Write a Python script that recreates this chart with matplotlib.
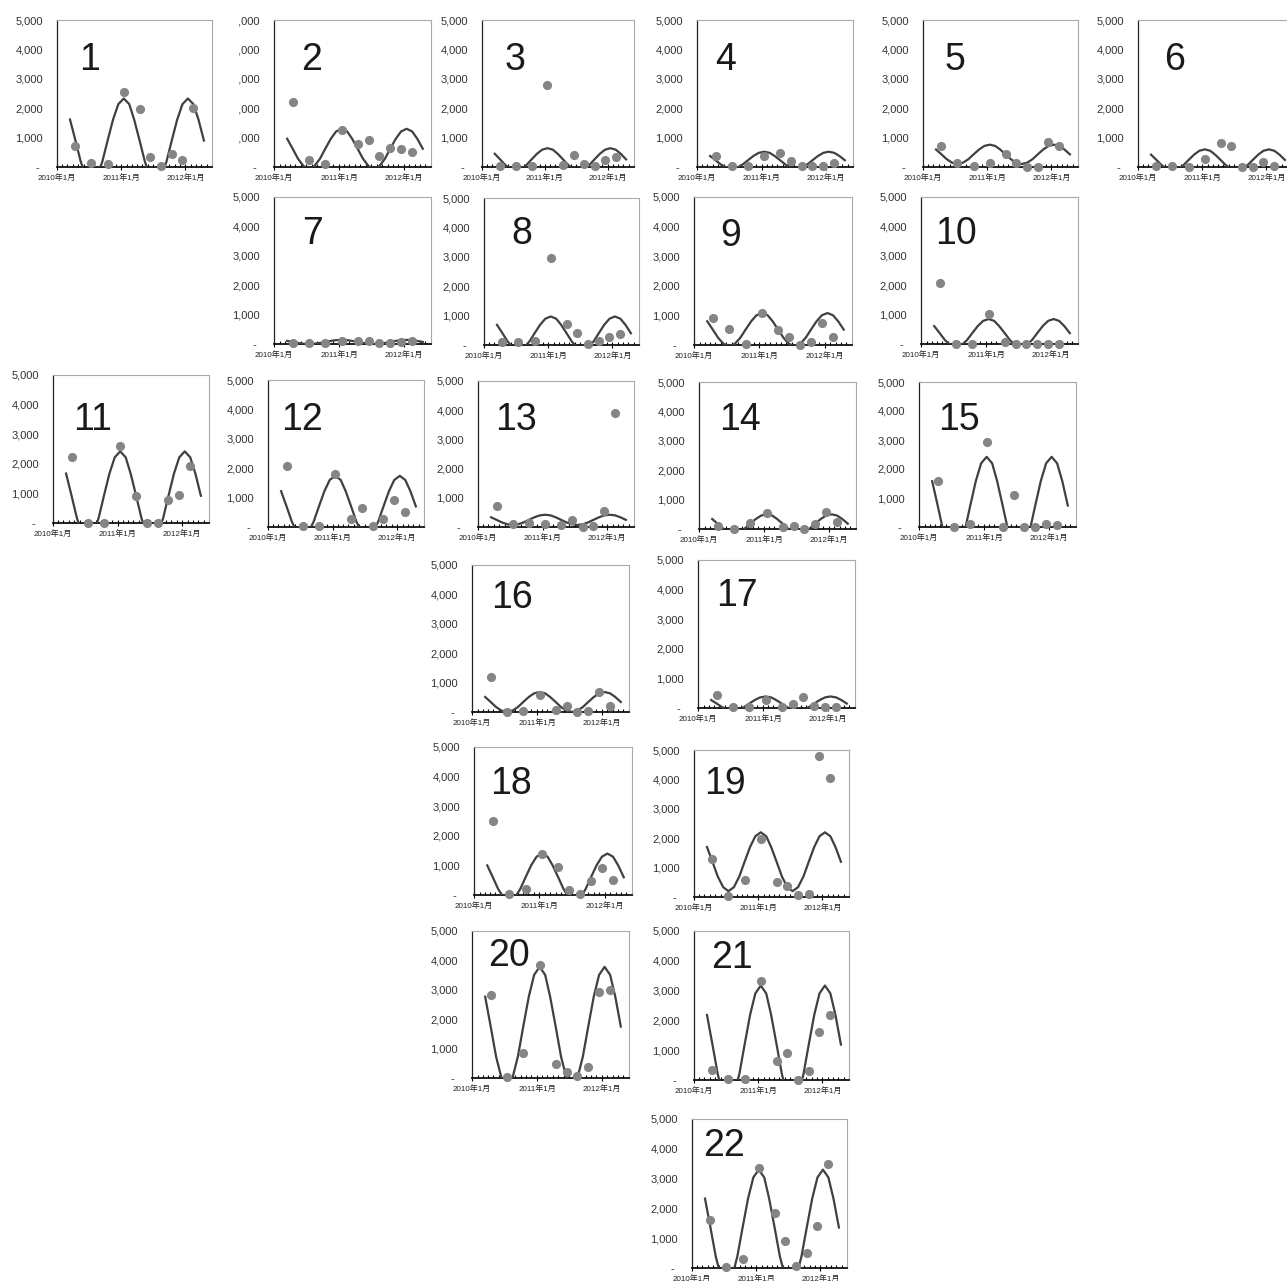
import matplotlib
matplotlib.use('Agg')
import matplotlib.pyplot as plt
import matplotlib.dates as mdates
import pandas as pd
from matplotlib.ticker import FuncFormatter
from matplotlib.transforms import Bbox

plt.rcParams['font.family'] = ['Liberation Sans', 'Noto Sans CJK JP', 'DejaVu Sans']

W, H = 1287, 1281

# observed values (every 2-3 months) and fitted seasonal curve (monthly)
dot_months = ['2010-04', '2010-07', '2010-10', '2011-01', '2011-04',
              '2011-06', '2011-08', '2011-10', '2011-12', '2012-02']
fit_months = ['2010-03', '2010-04', '2010-05', '2010-06', '2010-07', '2010-08', '2010-09',
              '2010-10', '2010-11', '2010-12', '2011-01', '2011-02', '2011-03', '2011-04',
              '2011-05', '2011-06', '2011-07', '2011-08', '2011-09', '2011-10', '2011-11',
              '2011-12', '2012-01', '2012-02', '2012-03', '2012-04']

dots_01 = [710, 130, 100, 2550, 1970, 350, 40, 445, 230, 2000]
fit_01 = [1615, 900, 185, -338, -530, -338, 185, 900, 1615, 2138, 2330, 2138, 1615,
          900, 185, -338, -530, -338, 185, 900, 1615, 2138, 2330, 2138, 1615, 900]
dots_02 = [2200, 250, 110, 1260, 790, 920, 360, 640, 600, 510]
fit_02 = [960, 620, 280, 31, -60, 31, 280, 620, 960, 1209, 1300, 1209, 960,
          620, 280, 31, -60, 31, 280, 620, 960, 1209, 1300, 1209, 960, 620]
dots_03 = [50, 20, 20, 2780, 80, 420, 110, 20, 230, 330]
fit_03 = [450, 260, 70, -69, -120, -69, 70, 260, 450, 589, 640, 589, 450,
          260, 70, -69, -120, -69, 70, 260, 450, 589, 640, 589, 450, 260]
dots_04 = [370, 50, 20, 360, 490, 200, 20, 20, 20, 140]
fit_04 = [375, 230, 85, -21, -60, -21, 85, 230, 375, 481, 520, 481, 375,
          230, 85, -21, -60, -21, 85, 230, 375, 481, 520, 481, 375, 230]
dots_05 = [720, 140, 50, 140, 430, 140, 15, 15, 850, 720]
fit_05 = [595, 430, 265, 144, 100, 144, 265, 430, 595, 716, 760, 716, 595,
          430, 265, 144, 100, 144, 265, 430, 595, 716, 760, 716, 595, 430]
dots_06 = [40, 40, 10, 270, 800, 720, 10, 15, 170, 40]
fit_06 = [420, 240, 60, -72, -120, -72, 60, 240, 420, 552, 600, 552, 420,
          240, 60, -72, -120, -72, 60, 240, 420, 552, 600, 552, 420, 240]
dots_07 = [25, 25, 25, 115, 105, 115, 25, 25, 60, 115]
fit_07 = [105, 70, 35, 9, 0, 9, 35, 70, 105, 131, 140, 131, 105,
          70, 35, 9, 0, 9, 35, 70, 105, 131, 140, 131, 105, 70]
dots_08 = [100, 100, 150, 2970, 700, 400, 20, 150, 280, 380]
fit_08 = [685, 400, 115, -94, -170, -94, 115, 400, 685, 894, 970, 894, 685,
          400, 115, -94, -170, -94, 115, 400, 685, 894, 970, 894, 685, 400]
dots_09 = [900, 530, 50, 1080, 500, 270, 10, 100, 760, 280]
fit_09 = [800, 520, 240, 35, -40, 35, 240, 520, 800, 1005, 1080, 1005, 800,
          520, 240, 35, -40, 35, 240, 520, 800, 1005, 1080, 1005, 800, 520]
dots_10 = [2060, 10, 10, 1010, 80, 10, 10, 10, 10, 10]
fit_10 = [610, 370, 130, -46, -110, -46, 130, 370, 610, 786, 850, 786, 610,
          370, 130, -46, -110, -46, 130, 370, 610, 786, 850, 786, 610, 370]
dots_11 = [2230, 10, 10, 2610, 910, 10, 10, 790, 960, 1930]
fit_11 = [1670, 920, 170, -379, -580, -379, 170, 920, 1670, 2219, 2420, 2219, 1670,
          920, 170, -379, -580, -379, 170, 920, 1670, 2219, 2420, 2219, 1670, 920]
dots_12 = [2070, 30, 30, 1800, 280, 650, 30, 280, 920, 520]
fit_12 = [1220, 700, 180, -201, -340, -201, 180, 700, 1220, 1601, 1740, 1601, 1220,
          700, 180, -201, -340, -201, 180, 700, 1220, 1601, 1740, 1601, 1220, 700]
dots_13 = [720, 90, 140, 90, 70, 230, 10, 20, 540, 3920]
fit_13 = [333, 245, 158, 93, 70, 93, 158, 245, 333, 397, 420, 397, 333,
          245, 158, 93, 70, 93, 158, 245, 333, 397, 420, 397, 333, 245]
dots_14 = [110, 10, 210, 550, 70, 90, 10, 160, 580, 250]
fit_14 = [340, 180, 20, -97, -140, -97, 20, 180, 340, 457, 500, 457, 340,
          180, 20, -97, -140, -97, 20, 180, 340, 457, 500, 457, 340, 180]
dots_15 = [1570, 10, 90, 2920, 10, 1120, 10, 10, 90, 60]
fit_15 = [1580, 740, -100, -715, -940, -715, -100, 740, 1580, 2195, 2420, 2195, 1580,
          740, -100, -715, -940, -715, -100, 740, 1580, 2195, 2420, 2195, 1580, 740]
dots_16 = [1200, 10, 20, 570, 80, 200, 10, 50, 670, 220]
fit_16 = [510, 340, 170, 46, 0, 46, 170, 340, 510, 634, 680, 634, 510,
          340, 170, 46, 0, 46, 170, 340, 510, 634, 680, 634, 510, 340]
dots_17 = [450, 35, 35, 260, 35, 135, 385, 80, 35, 35]
fit_17 = [270, 150, 30, -58, -90, -58, 30, 150, 270, 358, 390, 358, 270,
          150, 30, -58, -90, -58, 30, 150, 270, 358, 390, 358, 270, 150]
dots_18 = [2510, 20, 210, 1400, 950, 160, 20, 460, 900, 520]
fit_18 = [1000, 600, 200, -93, -200, -93, 200, 600, 1000, 1293, 1400, 1293, 1000,
          600, 200, -93, -200, -93, 200, 600, 1000, 1293, 1400, 1293, 1000, 600]
dots_19 = [1300, 30, 590, 1970, 510, 380, 70, 100, 4800, 4060]
fit_19 = [1700, 1200, 700, 334, 200, 334, 700, 1200, 1700, 2066, 2200, 2066, 1700,
          1200, 700, 334, 200, 334, 700, 1200, 1700, 2066, 2200, 2066, 1700, 1200]
dots_20 = [2820, 20, 850, 3860, 470, 200, 70, 380, 2920, 3000]
fit_20 = [2765, 1750, 735, -8, -280, -8, 735, 1750, 2765, 3508, 3780, 3508, 2765,
          1750, 735, -8, -280, -8, 735, 1750, 2765, 3508, 3780, 3508, 2765, 1750]
dots_21 = [320, 20, 20, 3330, 640, 900, 10, 290, 1600, 2190]
fit_21 = [2180, 1190, 200, -525, -790, -525, 200, 1190, 2180, 2905, 3170, 2905, 2180,
          1190, 200, -525, -790, -525, 200, 1190, 2180, 2905, 3170, 2905, 2180, 1190]
dots_22 = [1620, 30, 300, 3350, 1860, 910, 60, 520, 1420, 3480]
fit_22 = [2330, 1360, 390, -320, -580, -320, 390, 1360, 2330, 3040, 3300, 3040, 2330,
          1360, 390, -320, -580, -320, 390, 1360, 2330, 3040, 3300, 3040, 2330, 1360]

panel_data = [
    (dots_01, fit_01), (dots_02, fit_02), (dots_03, fit_03), (dots_04, fit_04),
    (dots_05, fit_05), (dots_06, fit_06), (dots_07, fit_07), (dots_08, fit_08),
    (dots_09, fit_09), (dots_10, fit_10), (dots_11, fit_11), (dots_12, fit_12),
    (dots_13, fit_13), (dots_14, fit_14), (dots_15, fit_15), (dots_16, fit_16),
    (dots_17, fit_17), (dots_18, fit_18), (dots_19, fit_19), (dots_20, fit_20),
    (dots_21, fit_21), (dots_22, fit_22),
]

# plot-area boxes in pixels (left, top, right, bottom) and label centre
boxes = [
    (57, 20, 212, 167), (274, 20, 431, 167), (482, 20, 634, 167), (697, 20, 853, 167),
    (923, 20, 1078, 167), (1138, 20, 1293, 167),
    (274, 197, 431, 344), (484, 198, 639, 345), (694, 197, 852, 345), (921, 197, 1078, 344),
    (53, 375, 209, 523), (268, 380, 424, 527), (478, 381, 634, 527), (699, 382, 856, 529),
    (919, 382, 1076, 527),
    (472, 565, 629, 712), (698, 560, 855, 708),
    (474, 747, 632, 895), (694, 750, 849, 897),
    (472, 931, 629, 1078), (694, 931, 849, 1080),
    (692, 1119, 847, 1268),
]
label_pos = [
    (90, 57), (312, 57), (515, 57), (726, 57), (955, 57), (1175, 57),
    (313, 230), (522, 230), (731, 232), (956, 231),
    (93, 416), (302, 417), (516, 416), (740, 416), (959, 416),
    (512, 594), (737, 593),
    (511, 781), (725, 781),
    (509, 953), (732, 954),
    (724, 1142),
]


def mid_month(months):
    return pd.PeriodIndex(months, freq='M').to_timestamp() + pd.Timedelta(days=15)


def y_fmt(v, _):
    return '- ' if v == 0 else f'{v:,.0f}'


def x_fmt(v, _):
    d = mdates.num2date(v)
    return f'{d.year}年{d.month}月'


def draw_panel(fig, n, box, dots, fit):
    l, t, r, b = box
    ax = fig.add_axes([l / W, 1 - b / H, (r - l) / W, (b - t) / H])
    ax.plot(mid_month(fit_months), fit, color='#404040', lw=1.6, zorder=3)
    ax.plot(mid_month(dot_months), dots, 'o', ms=6.6, color='#858585', mec='none',
            clip_on=False, zorder=4)
    ax.set_xlim(pd.Timestamp('2010-01-01'), pd.Timestamp('2012-06-01'))
    ax.set_ylim(0, 5000)
    ax.set_yticks(range(0, 5001, 1000))
    ax.yaxis.set_major_formatter(FuncFormatter(y_fmt))
    ax.xaxis.set_major_locator(mdates.YearLocator())
    ax.xaxis.set_minor_locator(mdates.MonthLocator())
    ax.xaxis.set_major_formatter(FuncFormatter(x_fmt))
    ax.tick_params(axis='y', length=0, pad=10, labelsize=8, labelcolor='#333333')
    ax.tick_params(axis='x', which='major', length=4, width=0.8, direction='inout',
                   pad=3, labelsize=5.8, labelcolor='#222222')
    ax.tick_params(axis='x', which='minor', length=2, width=0.8, direction='in')
    for s in ['top', 'right']:
        ax.spines[s].set_color('#aaaaaa')
        ax.spines[s].set_linewidth(0.8)
    ax.spines['left'].set_color('#222222')
    ax.spines['left'].set_linewidth(0.9)
    ax.spines['bottom'].set_color('#111111')
    ax.spines['bottom'].set_linewidth(1.3)
    cx, cy = label_pos[n - 1]
    fig.text(cx / W, 1 - (cy + 13.5) / H, str(n), ha='center', va='baseline',
             fontsize=27, color='#1a1a1a')
    return ax


def main():
    fig = plt.figure(figsize=(W / 100, H / 100), dpi=100)
    fig.patch.set_facecolor('white')
    for i, (dots, fit) in enumerate(panel_data):
        ax = draw_panel(fig, i + 1, boxes[i], dots, fit)
        if i == 1:
            # labels of chart 2 are partly hidden behind chart 1
            clip = Bbox([[239, 0], [W, H]])
            for lab in ax.get_yticklabels():
                lab.set_clip_box(clip)
                lab.set_clip_on(True)
    fig.savefig('out.png', dpi=100, facecolor='white')


if __name__ == "__main__":
    main()
